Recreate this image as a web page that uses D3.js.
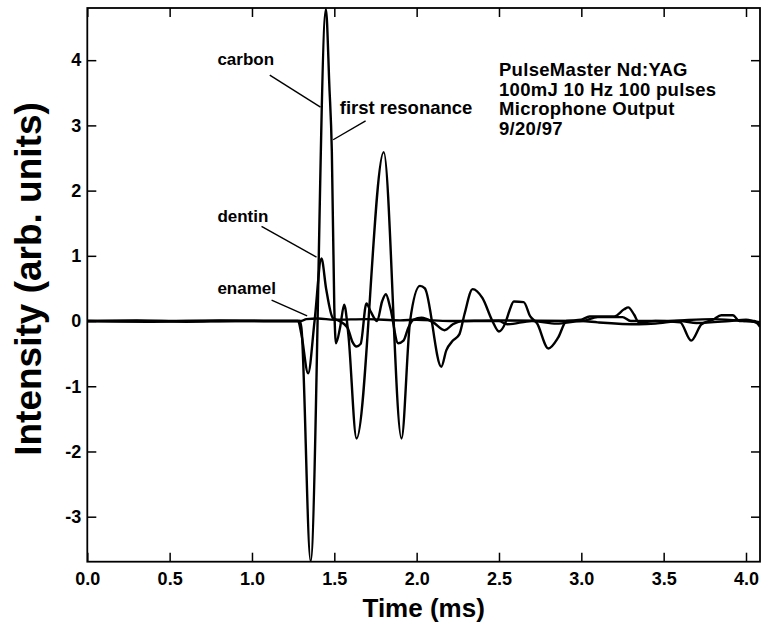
<!DOCTYPE html>
<html>
<head>
<meta charset="utf-8">
<script src="https://cdn.jsdelivr.net/npm/d3@7"></script>
<style>
  html, body { margin: 0; padding: 0; background: #fff; overflow: hidden; }
  svg { display: block; }
  text { font-family: "Liberation Sans", Arial, Helvetica, sans-serif; font-weight: bold; fill: #000; }
</style>
</head>
<body>
<div id="chart"></div>
<script>
// values: [time (ms), intensity]
const carbon = [
  [0, 0], [0.3, 0.01], [0.6, -0.01], [0.9, 0], [1.2, 0], [1.29, 0], [1.30, -0.1],
  [1.356, -3.68], [1.449, 4.78], [1.47, 3.6], [1.485, 2.6], [1.50, 0.2], [1.51, -0.34],
  [1.535, -0.1], [1.56, 0.25], [1.585, -0.2], [1.635, -1.8], [1.80, 2.59], [1.908, -1.8],
  [1.96, 0.0], [2.02, 0.54], [2.05, 0.5], [2.15, -0.7], [2.18, -0.45], [2.22, -0.3],
  [2.26, -0.2], [2.29, 0.1], [2.34, 0.49], [2.40, 0.35], [2.46, 0.0], [2.50, -0.16],
  [2.54, -0.02], [2.565, 0.17], [2.59, 0.3], [2.65, 0.29], [2.69, 0.07], [2.73, -0.03],
  [2.80, -0.42], [2.86, -0.25], [2.91, 0.0], [3.0, 0.02], [3.05, 0.07], [3.2, 0.07],
  [3.26, 0.18], [3.285, 0.21], [3.32, 0.1], [3.35, -0.02], [3.45, 0], [3.6, -0.02],
  [3.667, -0.3], [3.73, -0.05], [3.8, 0.02], [3.85, 0.09], [3.92, 0.09], [3.96, 0.0],
  [4.05, 0.0], [4.085, -0.09]
];

const dentin = [
  [0, 0], [0.4, -0.01], [0.8, 0.01], [1.2, 0], [1.28, 0], [1.30, -0.2], [1.341, -0.8],
  [1.38, 0.0], [1.422, 0.96], [1.45, 0.5], [1.49, 0.05], [1.53, 0.0], [1.58, -0.1],
  [1.61, -0.32], [1.635, -0.39], [1.66, -0.35], [1.695, 0.27], [1.72, 0.15], [1.76, 0.0],
  [1.79, 0.3], [1.813, 0.41], [1.84, 0.2], [1.888, -0.34], [1.92, -0.3], [1.95, -0.1],
  [1.98, 0.02], [2.03, 0.05], [2.10, -0.02], [2.17, -0.14], [2.22, -0.05], [2.28, 0.0],
  [2.5, 0.0], [2.55, -0.05], [2.7, 0.0], [2.85, -0.04], [3.0, 0.0], [3.1, -0.02],
  [3.35, -0.05], [3.45, -0.04], [3.6, 0.0], [3.7, -0.03], [3.9, 0.0], [4.0, 0.02],
  [4.085, -0.05]
];

const enamel = [
  [0, 0], [1.3, 0], [1.33, 0.03], [1.40, 0.04], [1.5, 0.02], [1.7, 0.03], [1.9, 0.01],
  [2.0, 0.02], [2.2, 0.0], [2.5, 0.01], [3.0, 0.0], [3.1, 0.06], [3.25, 0.06], [3.3, 0.0],
  [3.5, 0.0], [3.8, 0.03], [4.0, 0.0], [4.085, -0.02]
];

const xTicks = [0, 0.5, 1.0, 1.5, 2.0, 2.5, 3.0, 3.5, 4.0];
const yTicks = [-3, -2, -1, 0, 1, 2, 3, 4];

const infoLines = ["PulseMaster Nd:YAG", "100mJ 10 Hz 100 pulses", "Microphone Output", "9/20/97"];

// label text, label position (data), leader from -> to (data)
const notes = [
  { text: "carbon", at: [0.79, 3.93], from: [1.108, 3.77], to: [1.416, 3.28], size: 17 },
  { text: "first resonance", at: [1.533, 3.18], from: [1.69, 3.07], to: [1.493, 2.78], size: 18.5 },
  { text: "dentin", at: [0.79, 1.52], from: [1.058, 1.45], to: [1.392, 0.98], size: 17 },
  { text: "enamel", at: [0.79, 0.41], from: [1.119, 0.32], to: [1.335, 0.08], size: 17 }
];

const width = 767;
const height = 625;
const margin = { top: 8, right: 7, bottom: 63.3, left: 87.3 };
const innerWidth = width - margin.left - margin.right;
const innerHeight = height - margin.top - margin.bottom;

const svg = d3.select('#chart')
  .append('svg')
  .attr('width', width)
  .attr('height', height);

const xScale = d3.scaleLinear()
  .domain([0, 4.085])
  .range([margin.left, margin.left + innerWidth]);

const yScale = d3.scaleLinear()
  .domain([-3.69, 4.80])
  .range([margin.top + innerHeight, margin.top]);

svg.append('clipPath')
  .attr('id', 'plot-clip')
  .append('rect')
  .attr('x', margin.left)
  .attr('y', margin.top)
  .attr('width', innerWidth)
  .attr('height', innerHeight);

// traces
const line = d3.line()
  .x(d => xScale(d[0]))
  .y(d => yScale(d[1]))
  .curve(d3.curveMonotoneX);

[enamel, dentin, carbon].forEach(series => {
  svg.append('path')
    .datum(series)
    .attr('clip-path', 'url(#plot-clip)')
    .attr('fill', 'none')
    .attr('stroke', '#000')
    .attr('stroke-width', 2.4)
    .attr('stroke-linejoin', 'round')
    .attr('d', line);
});

// axes with inward ticks on all four sides
const tickLen = 9;
const xAxisBottom = d3.axisBottom(xScale).tickValues(xTicks)
  .tickSizeInner(-tickLen).tickSizeOuter(0).tickPadding(11)
  .tickFormat(d3.format('.1f'));
const xAxisTop = d3.axisTop(xScale).tickValues(xTicks)
  .tickSizeInner(-tickLen).tickSizeOuter(0);
const yAxisLeft = d3.axisLeft(yScale).tickValues(yTicks)
  .tickSizeInner(-tickLen).tickSizeOuter(0).tickPadding(6)
  .tickFormat(d => String(d));
const yAxisRight = d3.axisRight(yScale).tickValues(yTicks)
  .tickSizeInner(-tickLen).tickSizeOuter(0);

const axes = [
  [xAxisBottom, `translate(0, ${margin.top + innerHeight})`, true],
  [xAxisTop, `translate(0, ${margin.top})`, false],
  [yAxisLeft, `translate(${margin.left}, 0)`, true],
  [yAxisRight, `translate(${margin.left + innerWidth}, 0)`, false]
];
axes.forEach(([axis, tr, labelled]) => {
  const g = svg.append('g').attr('transform', tr).call(axis);
  g.select('.domain').remove();
  g.selectAll('.tick line').attr('stroke', '#000').attr('stroke-width', 1.5);
  if (!labelled) {
    g.selectAll('.tick text').remove();
    return;
  }
  g.selectAll('.tick text')
    .style('font-family', '"Liberation Sans", Arial, sans-serif')
    .style('font-weight', 'bold')
    .style('font-size', '18px')
    .attr('fill', '#000');
});

// frame
svg.append('rect')
  .attr('x', margin.left)
  .attr('y', margin.top)
  .attr('width', innerWidth)
  .attr('height', innerHeight)
  .attr('fill', 'none')
  .attr('stroke', '#000')
  .attr('stroke-width', 1.8);

// annotations
notes.forEach(n => {
  svg.append('line')
    .attr('x1', xScale(n.from[0])).attr('y1', yScale(n.from[1]))
    .attr('x2', xScale(n.to[0])).attr('y2', yScale(n.to[1]))
    .attr('stroke', '#000')
    .attr('stroke-width', 1.4);
  svg.append('text')
    .attr('x', xScale(n.at[0]))
    .attr('y', yScale(n.at[1]))
    .style('font-size', n.size + 'px')
    .text(n.text);
});

const info = svg.append('text')
  .attr('x', xScale(2.5))
  .attr('y', 76)
  .style('font-size', '18.5px')
  .style('letter-spacing', '0.3px');
info.selectAll('tspan')
  .data(infoLines)
  .enter()
  .append('tspan')
  .attr('x', xScale(2.5))
  .attr('dy', (d, i) => i === 0 ? 0 : 19.5)
  .text(d => d);

// axis titles
svg.append('text')
  .attr('x', margin.left + innerWidth / 2)
  .attr('y', 617)
  .style('text-anchor', 'middle')
  .style('font-size', '26px')
  .text('Time (ms)');

svg.append('text')
  .attr('transform', 'rotate(-90)')
  .attr('x', -279)
  .attr('y', 41)
  .style('text-anchor', 'middle')
  .style('font-size', '37px')
  .text('Intensity (arb. units)');
</script>
</body>
</html>
